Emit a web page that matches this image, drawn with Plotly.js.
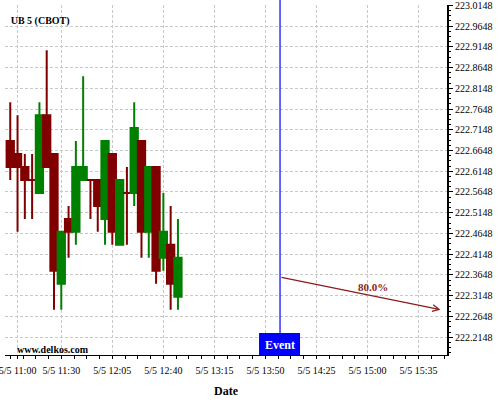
<!DOCTYPE html>
<html><head><meta charset="utf-8">
<script src="https://cdn.plot.ly/plotly-3.0.1.min.js"></script>
<style>html,body{margin:0;padding:0;background:#fff}#chart{width:500px;height:400px}</style>
</head><body><div id="chart"></div>
<script>
const times = ['2024-05-05 10:55','2024-05-05 11:00','2024-05-05 11:05','2024-05-05 11:10','2024-05-05 11:15','2024-05-05 11:20','2024-05-05 11:25','2024-05-05 11:30','2024-05-05 11:35','2024-05-05 11:40','2024-05-05 11:45','2024-05-05 11:50','2024-05-05 11:55','2024-05-05 12:00','2024-05-05 12:05','2024-05-05 12:10','2024-05-05 12:15','2024-05-05 12:20','2024-05-05 12:25','2024-05-05 12:30','2024-05-05 12:35','2024-05-05 12:40','2024-05-05 12:45','2024-05-05 12:50'];
const openP  = [222.6875,222.65625,222.625,222.59375,222.5625,222.75,222.65625,222.34375,222.5,222.46875,222.59375,222.59375,222.59375,222.5,222.65625,222.4375,222.5625,222.5625,222.6875,222.46875,222.625,222.40625,222.4375,222.3125];
const highP  = [222.78125,222.75,222.65625,222.65625,222.78125,222.90625,222.65625,222.46875,222.53125,222.6875,222.84375,222.59375,222.59375,222.6875,222.65625,222.59375,222.625,222.78125,222.6875,222.625,222.625,222.5625,222.53125,222.5];
const lowP   = [222.59375,222.46875,222.5,222.5,222.5625,222.625,222.28125,222.28125,222.40625,222.4375,222.59375,222.5,222.46875,222.4375,222.4375,222.4375,222.4375,222.53125,222.40625,222.40625,222.34375,222.375,222.28125,222.28125];
const closeP = [222.625,222.625,222.59375,222.59375,222.75,222.625,222.375,222.46875,222.46875,222.625,222.625,222.59375,222.53125,222.6875,222.46875,222.59375,222.5625,222.71875,222.46875,222.625,222.375,222.46875,222.34375,222.40625];

const tickTimes = ['2024-05-05 11:00','2024-05-05 11:30','2024-05-05 12:05','2024-05-05 12:40','2024-05-05 13:15','2024-05-05 13:50','2024-05-05 14:25','2024-05-05 15:00','2024-05-05 15:35'];
const tickLabels = ['5/5 11:00','5/5 11:30','5/5 12:05','5/5 12:40','5/5 13:15','5/5 13:50','5/5 14:25','5/5 15:00','5/5 15:35'];

const eventTime = '2024-05-05 14:00';
const eventLabel = 'Event';
const arrowStartPrice = 222.36;
const targetTime = '2024-05-05 15:50';
const targetPrice = 222.28125;
const probLabel = '80.0%';
const titleText = 'UB 5 (CBOT)';
const siteText = 'www.delkos.com';

const SERIF = 'Liberation Serif';
const RED = '#800000', GREEN = '#008000', ARROW = '#8b1c1c';
const GRID = '#c8c8c8';

const trace = {
  type: 'candlestick',
  x: times, open: openP, high: highP, low: lowP, close: closeP,
  increasing: {line: {color: GREEN, width: 2}, fillcolor: GREEN},
  decreasing: {line: {color: RED, width: 2}, fillcolor: RED},
  whiskerwidth: 0,
  showlegend: false,
  hoverinfo: 'skip'
};

const layout = {
  width: 500, height: 400,
  margin: {l: 5, r: 53, t: 5, b: 45},
  paper_bgcolor: '#fff', plot_bgcolor: '#fff',
  boxgap: 0, boxgroupgap: 0,
  showlegend: false,
  font: {family: SERIF, size: 10, color: '#000'},
  title: {text: '<b>' + titleText + '</b>', font: {family: SERIF, size: 10, color: '#000'},
          x: 0.0214, xanchor: 'left', y: 1 - 20.7/400, yanchor: 'middle'},
  xaxis: {
    type: 'date',
    range: ['2024-05-05 10:51:24', '2024-05-05 15:54:30'],
    tickmode: 'array', tickvals: tickTimes, ticktext: tickLabels,
    showline: true, linecolor: '#000', linewidth: 1, mirror: false,
    ticks: 'outside', ticklen: 3, tickcolor: '#000',
    ticklabeloverflow: 'allow', ticklabelstandoff: 3,
    showgrid: true, gridcolor: GRID, griddash: '3px,2px', gridwidth: 1,
    zeroline: false,
    tickfont: {family: SERIF, size: 10, color: '#000'},
    minor: {tickmode: 'linear', dtick: 525000, tick0: '2024-05-05 11:30', ticks: 'outside', ticklen: 3, tickcolor: '#000', showgrid: false},
    rangeslider: {visible: false},
    automargin: false,
    fixedrange: true,
    title: {text: '<b>Date</b>', font: {family: SERIF, size: 12, color: '#000'}, standoff: 11}
  },
  yaxis: {
    side: 'right',
    range: [222.172, 223.0154],
    tickmode: 'linear', tick0: 222.2148, dtick: 0.05, tickformat: '.4f',
    showline: true, linecolor: '#000', linewidth: 2,
    ticks: 'outside', ticklen: 4, tickcolor: '#000',
    ticklabeloverflow: 'allow',
    showgrid: true, gridcolor: GRID, griddash: '3px,2px', gridwidth: 1,
    zeroline: false,
    tickfont: {family: SERIF, size: 10, color: '#000'},
    minor: {tickmode: 'linear', tick0: 222.2148, dtick: 0.0125, ticks: 'outside', ticklen: 2, tickcolor: '#000', showgrid: false},
    automargin: false,
    fixedrange: true
  },
  shapes: [
    {type: 'line', xref: 'x', yref: 'paper', x0: eventTime, x1: eventTime, y0: 22/350, y1: 1.02,
     line: {color: '#0000ff', width: 1.2}},
    {type: 'rect', xref: 'x', yref: 'paper', xsizemode: 'pixel', ysizemode: 'pixel',
     xanchor: eventTime, x0: -21, x1: 20, yanchor: 0, y0: 0, y1: 22,
     fillcolor: '#0000ff', line: {width: 0}}
  ],
  annotations: [
    {xref: 'x', yref: 'paper', x: eventTime, y: 0, yanchor: 'middle', yshift: 10, showarrow: false,
     text: '<b>' + eventLabel + '</b>', font: {family: SERIF, size: 12, color: '#fff'}},
    {xref: 'x', yref: 'y', x: targetTime, y: targetPrice, axref: 'x', ayref: 'y',
     ax: eventTime, ay: arrowStartPrice, showarrow: true, arrowhead: 5, arrowsize: 1,
     arrowwidth: 1.3, arrowcolor: ARROW, standoff: 0, startstandoff: 0, text: ''},
    {xref: 'x', yref: 'y', x: '2024-05-05 15:04', y: 222.336, showarrow: false,
     text: '<b>' + probLabel + '</b>', font: {family: SERIF, size: 11, color: ARROW}},
    {xref: 'paper', yref: 'paper', x: 10/442, y: 6/350, xanchor: 'left', yanchor: 'middle', showarrow: false,
     text: '<b>' + siteText + '</b>', font: {family: SERIF, size: 10, color: '#000'}}
  ]
};

Plotly.newPlot('chart', [trace], layout, {displayModeBar: false, staticPlot: true});
</script>
</body></html>
